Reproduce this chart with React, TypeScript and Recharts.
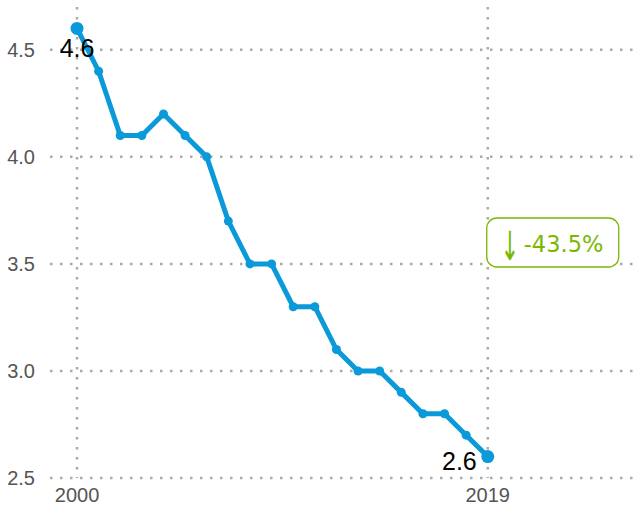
import React from 'react';
import { LineChart, Line, XAxis, YAxis, CartesianGrid, ReferenceDot, LabelList } from 'recharts';

const years = [2000, 2001, 2002, 2003, 2004, 2005, 2006, 2007, 2008, 2009, 2010, 2011, 2012, 2013, 2014, 2015, 2016, 2017, 2018, 2019];
const values = [4.6, 4.4, 4.1, 4.1, 4.2, 4.1, 4.0, 3.7, 3.5, 3.5, 3.3, 3.3, 3.1, 3.0, 3.0, 2.9, 2.8, 2.8, 2.7, 2.6];
const yTicks = [2.5, 3.0, 3.5, 4.0, 4.5];
const xTicks = [2000, 2019];
const yDomain = [2.5, 4.7];
const xDomain = [1998.75, 2025.95];
const changeLabel = '-43.5%';

const data = years.map((y, i) => ({ year: y, value: values[i] }));
const first = values[0];
const last = values[values.length - 1];
const mid = (first + last) / 2;

const BLUE = '#0a9ad9';
const GREEN = '#7ab800';
const FONT = 'Liberation Sans, Arial, sans-serif';

const renderDot = (props: any) => {
  const { cx, cy, index } = props;
  const isEnd = index === 0 || index === values.length - 1;
  return <circle key={'d' + index} cx={cx} cy={cy} r={isEnd ? 6.5 : 4.5} fill={BLUE} stroke="none" />;
};

const renderLabel = (props: any) => {
  const { x, y, index, value } = props;
  if (index === 0) {
    return (
      <text key="l0" x={x} y={y + 29} textAnchor="middle" fontSize={25} fill="#000" fontFamily={FONT}>
        {value.toFixed(1)}
      </text>
    );
  }
  if (index === values.length - 1) {
    return (
      <text key="l1" x={x - 11} y={y + 13} textAnchor="end" fontSize={25} fill="#000" fontFamily={FONT}>
        {value.toFixed(1)}
      </text>
    );
  }
  return null;
};

const XTick = (props: any) => {
  const { x, y, payload } = props;
  return (
    <text x={x} y={y + 18} textAnchor="middle" fontSize={20} fill="#555" fontFamily={FONT}>
      {payload.value}
    </text>
  );
};

const YTick = (props: any) => {
  const { x, y, payload } = props;
  return (
    <text x={x} y={y + 7} textAnchor="end" fontSize={20} fill="#555" fontFamily={FONT}>
      {Number(payload.value).toFixed(1)}
    </text>
  );
};

const Badge = (props: any) => {
  const { cx, cy } = props;
  const w = 132;
  const h = 49;
  return (
    <g>
      <rect x={cx - 1} y={cy - h / 2} width={w} height={h} rx={10} ry={10} fill="#fff" stroke={GREEN} strokeWidth={1.3} />
      <g transform={`translate(${cx + 22}, ${cy + 17}) scale(0.7, 1.25)`}>
        <text x={0} y={0} fontSize={32} fill={GREEN} fontFamily="DejaVu Sans, sans-serif" textAnchor="middle">↓</text>
      </g>
      <text x={cx + 36} y={cy + 9} fontSize={22.5} fill={GREEN} fontFamily="DejaVu Sans, sans-serif">{changeLabel}</text>
    </g>
  );
};

const hGen = ({ offset }: any) =>
  yTicks.map((t) => offset.top + ((yDomain[1] - t) / (yDomain[1] - yDomain[0])) * offset.height);
const vGen = ({ offset }: any) =>
  xTicks.map((t) => offset.left + ((t - xDomain[0]) / (xDomain[1] - xDomain[0])) * offset.width);

export default function App() {
  return (
    <div style={{ position: 'absolute', left: 0, top: 0, width: 638, height: 510, background: '#fff' }}>
      <LineChart width={638} height={510} data={data} margin={{ top: 7, right: 0, bottom: 0, left: 0 }}>
        <CartesianGrid
          stroke="#aaa"
          strokeWidth={2.5}
          strokeDasharray="2.5 7.5"
          horizontalCoordinatesGenerator={hGen}
          verticalCoordinatesGenerator={vGen}
        />
        <XAxis
          dataKey="year"
          type="number"
          domain={xDomain}
          ticks={xTicks}
          axisLine={false}
          tickLine={false}
          height={32}
          tick={<XTick />}
          tickMargin={0}
        />
        <YAxis
          type="number"
          domain={yDomain}
          ticks={yTicks}
          axisLine={false}
          tickLine={false}
          width={50}
          tick={<YTick />}
          tickMargin={9}
          allowDataOverflow
        />
        <Line
          type="linear"
          dataKey="value"
          stroke={BLUE}
          strokeWidth={5}
          dot={renderDot}
          activeDot={false}
          isAnimationActive={false}
        >
          <LabelList dataKey="value" content={renderLabel} />
        </Line>
        <ReferenceDot x={years[years.length - 1]} y={mid} shape={Badge} />
      </LineChart>
    </div>
  );
}
